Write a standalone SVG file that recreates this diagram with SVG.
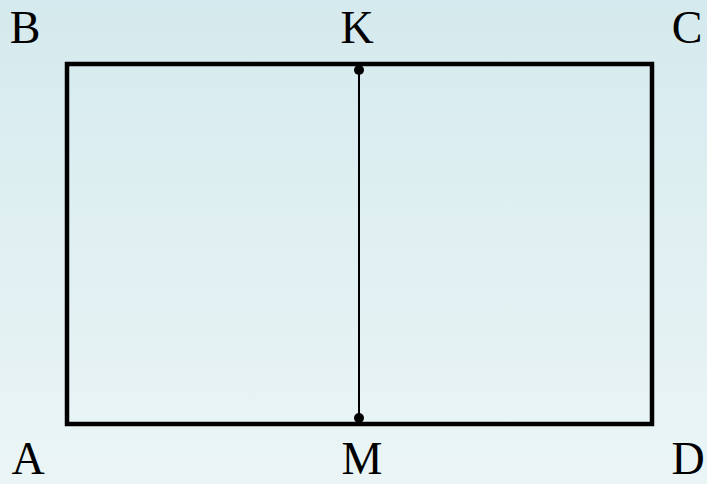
<svg xmlns="http://www.w3.org/2000/svg" width="707" height="484" viewBox="0 0 707 484">
<defs>
<linearGradient id="bg" x1="0" y1="0" x2="0" y2="1">
<stop offset="0" stop-color="#d5eaee"/>
<stop offset="1" stop-color="#ebf5f6"/>
</linearGradient>
<style>
.lbl{font-family:"Liberation Serif","Times New Roman",serif;font-size:46px;fill:#000;text-anchor:middle}
.pt{fill:#000}
</style>
</defs>
<rect width="707" height="484" fill="url(#bg)"/>
<g id="rectangle">
<rect x="67" y="64" width="585" height="360" fill="none" stroke="#000" stroke-width="4.5"/>
</g>
<g id="connectors">
<line x1="359" y1="70" x2="359" y2="418" stroke="#000" stroke-width="2"/>
</g>
<g id="K"><circle class="pt" cx="359" cy="70" r="5"/><text class="lbl" x="357" y="43">K</text></g>
<g id="M"><circle class="pt" cx="359" cy="418" r="5"/><text class="lbl" x="362" y="474">M</text></g>
<g id="B"><text class="lbl" x="25" y="43">B</text></g>
<g id="C"><text class="lbl" x="687" y="43">C</text></g>
<g id="A"><text class="lbl" x="28" y="474">A</text></g>
<g id="D"><text class="lbl" x="688" y="474">D</text></g>
</svg>
